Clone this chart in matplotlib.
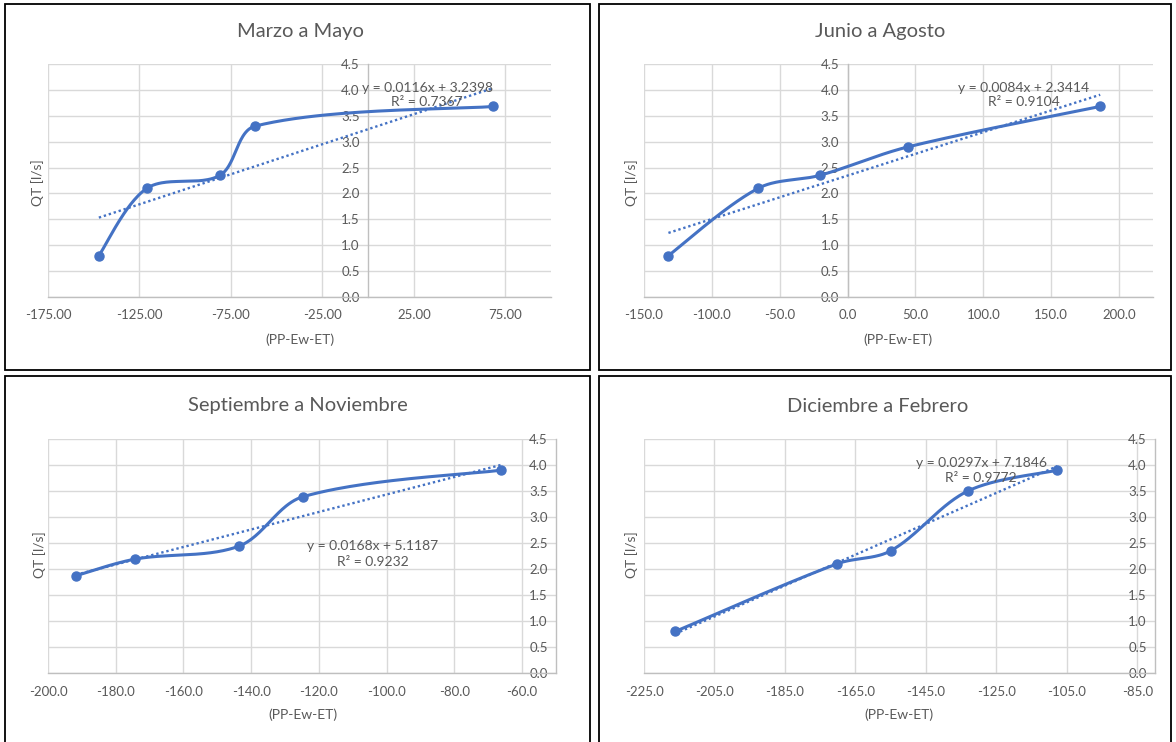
import numpy as np
import matplotlib
matplotlib.use("Agg")
import matplotlib.pyplot as plt
from matplotlib.patches import Rectangle
from matplotlib.ticker import FormatStrFormatter

plt.rcParams['font.family'] = ['Lato', 'DejaVu Sans']
plt.rcParams['axes.unicode_minus'] = False

W, H = 1176, 742

# ---------------- data ----------------
titles = ["Marzo a Mayo", "Junio a Agosto", "Septiembre a Noviembre", "Diciembre a Febrero"]

x_mam = [-147.2, -120.9, -81.0, -61.8, 68.4]
y_mam = [0.80, 2.10, 2.35, 3.30, 3.68]

x_jja = [-132.0, -65.8, -20.4, 44.6, 186.1]
y_jja = [0.80, 2.10, 2.35, 2.90, 3.68]

x_son = [-191.8, -174.3, -143.6, -124.7, -66.3]
y_son = [1.87, 2.19, 2.44, 3.39, 3.90]

x_def = [-216.1, -170.2, -155.0, -133.1, -107.7]
y_def = [0.80, 2.10, 2.35, 3.50, 3.90]

eq_texts = ["y = 0.0116x + 3.2398\nR² = 0.7367",
            "y = 0.0084x + 2.3414\nR² = 0.9104",
            "y = 0.0168x + 5.1187\nR² = 0.9232",
            "y = 0.0297x + 7.1846\nR² = 0.9772"]

xticks_mam = [-175, -125, -75, -25, 25, 75]
xticks_jja = [-150, -100, -50, 0, 50, 100, 150, 200]
xticks_son = [-200, -180, -160, -140, -120, -100, -80, -60]
xticks_def = [-225, -205, -185, -165, -145, -125, -105, -85]
yticks = [0.0, 0.5, 1.0, 1.5, 2.0, 2.5, 3.0, 3.5, 4.0, 4.5]

# ---------------- style ----------------
BLUE = "#4472C4"
TXT = "#595959"
GRID = "#d9d9d9"
AXL = "#bfbfbf"

fig = plt.figure(figsize=(W / 100, H / 100), dpi=100)
fig.patch.set_facecolor("white")


def fr(x0, y0, x1, y1):
    return [x0 / W, 1 - y1 / H, (x1 - x0) / W, (y1 - y0) / H]


def smooth(xs, ys, sx, sy, n=50):
    """Excel-like smoothed line: cubic Bezier with tangents weighted by
    neighbouring segment lengths (measured in screen units)."""
    P = np.column_stack([xs, ys]).astype(float)
    S = np.array([sx, sy])
    m = len(P)

    def d(a, b):
        return np.hypot(*((b - a) * S))

    out = [P[0]]
    for i in range(m - 1):
        p0 = P[i - 1] if i > 0 else P[i]
        p1 = P[i]
        p2 = P[i + 1]
        p3 = P[i + 2] if i + 2 < m else P[i + 1]
        d01, d12, d23 = d(p0, p1), d(p1, p2), d(p2, p3)
        w1 = d12 / (d01 + d12) if (d01 + d12) > 0 else 0.5
        w2 = d12 / (d12 + d23) if (d12 + d23) > 0 else 0.5
        if i == 0:
            w1 = 0.5
        if i + 2 >= m:
            w2 = 0.5
        c1 = p1 + (p2 - p0) * w1 / 3.0
        c2 = p2 - (p3 - p1) * w2 / 3.0
        t = np.linspace(0, 1, n)[1:, None]
        seg = ((1 - t) ** 3) * p1 + 3 * ((1 - t) ** 2) * t * c1 + 3 * (1 - t) * t ** 2 * c2 + t ** 3 * p2
        out.extend(seg)
    out = np.array(out)
    return out[:, 0], out[:, 1]


panels = [
    dict(box=(5, 4, 590, 370), plot=(48, 64, 551, 297), xs=x_mam, ys=y_mam, xlim=(-175, 100),
         xt=xticks_mam, fmt="%.2f", spine=('data', 0), title_xy=(300, 31), xl_xy=(300, 340),
         yl_xy=(38, 183), eq_xy=(427, 95)),
    dict(box=(599, 4, 1171, 370), plot=(644, 64, 1153, 297), xs=x_jja, ys=y_jja, xlim=(-150, 225),
         xt=xticks_jja, fmt="%.1f", spine=('data', 0), title_xy=(880, 31), xl_xy=(898, 340),
         yl_xy=(632, 183), eq_xy=(1024, 95)),
    dict(box=(5, 376, 590, 745), plot=(48, 439, 556, 673), xs=x_son, ys=y_son, xlim=(-200, -50),
         xt=xticks_son, fmt="%.1f", spine=('axes', 1.0), title_xy=(298, 406), xl_xy=(303, 715),
         yl_xy=(40, 555), eq_xy=(373, 554)),
    dict(box=(599, 376, 1171, 745), plot=(644, 439, 1155, 673), xs=x_def, ys=y_def, xlim=(-225, -80),
         xt=xticks_def, fmt="%.1f", spine=('axes', 1.0), title_xy=(878, 406), xl_xy=(899, 715),
         yl_xy=(632, 555), eq_xy=(981, 470)),
]

for k, p in enumerate(panels):
    bx0, by0, bx1, by1 = p["box"]
    fig.patches.append(Rectangle((bx0 / W, 1 - by1 / H), (bx1 - bx0) / W, (by1 - by0) / H,
                                 transform=fig.transFigure, fill=False, edgecolor="black",
                                 linewidth=1.3, zorder=0))
    ax = fig.add_axes(fr(*p["plot"]))
    ax.set_xlim(*p["xlim"])
    ax.set_ylim(0, 4.5)
    ax.set_xticks(p["xt"])
    ax.set_yticks(yticks)
    ax.xaxis.set_major_formatter(FormatStrFormatter(p["fmt"]))
    ax.yaxis.set_major_formatter(FormatStrFormatter("%.1f"))
    ax.grid(True, color=GRID, linewidth=1.0, zorder=0)
    ax.set_axisbelow(True)
    for s in ["top", "right"]:
        ax.spines[s].set_visible(False)
    ax.spines["bottom"].set_color(AXL)
    ax.spines["bottom"].set_linewidth(1.0)
    ax.spines["left"].set_position(p["spine"])
    ax.spines["left"].set_color(AXL)
    ax.spines["left"].set_linewidth(1.0)
    ax.tick_params(axis="both", length=0, labelsize=9.5, labelcolor=TXT)
    ax.tick_params(axis="x", pad=9)
    ax.tick_params(axis="y", pad=6)
    for lab in ax.get_yticklabels():
        lab.set_zorder(5)

    xs = np.array(p["xs"]); ys = np.array(p["ys"])
    pw = p["plot"][2] - p["plot"][0]
    ph = p["plot"][3] - p["plot"][1]
    scx = pw / (p["xlim"][1] - p["xlim"][0])
    scy = ph / 4.5
    sx, sy = smooth(xs, ys, scx, scy)
    ax.plot(sx, sy, color=BLUE, linewidth=2.2, zorder=3, clip_on=False, solid_capstyle="round")
    ax.plot(xs, ys, "o", color=BLUE, markersize=6.5, zorder=4, clip_on=False)
    a, b = np.polyfit(xs, ys, 1)
    tx = np.array([xs.min(), xs.max()])
    ax.plot(tx, a * tx + b, color=BLUE, linewidth=1.7, linestyle=(0, (1, 1.2)), zorder=3)

    fig.text(p["title_xy"][0] / W, 1 - p["title_xy"][1] / H, titles[k], ha="center", va="center",
             fontsize=14.5, color=TXT)
    fig.text(p["xl_xy"][0] / W, 1 - p["xl_xy"][1] / H, "(PP-Ew-ET)", ha="center", va="center",
             fontsize=10, color=TXT)
    fig.text(p["yl_xy"][0] / W, 1 - p["yl_xy"][1] / H, "QT [l/s]", ha="center", va="center",
             fontsize=10, color=TXT, rotation=90)
    fig.text(p["eq_xy"][0] / W, 1 - p["eq_xy"][1] / H, eq_texts[k], ha="center", va="center",
             fontsize=10, color=TXT, linespacing=1.3, zorder=6)

fig.savefig("out.png", dpi=100, facecolor="white")
